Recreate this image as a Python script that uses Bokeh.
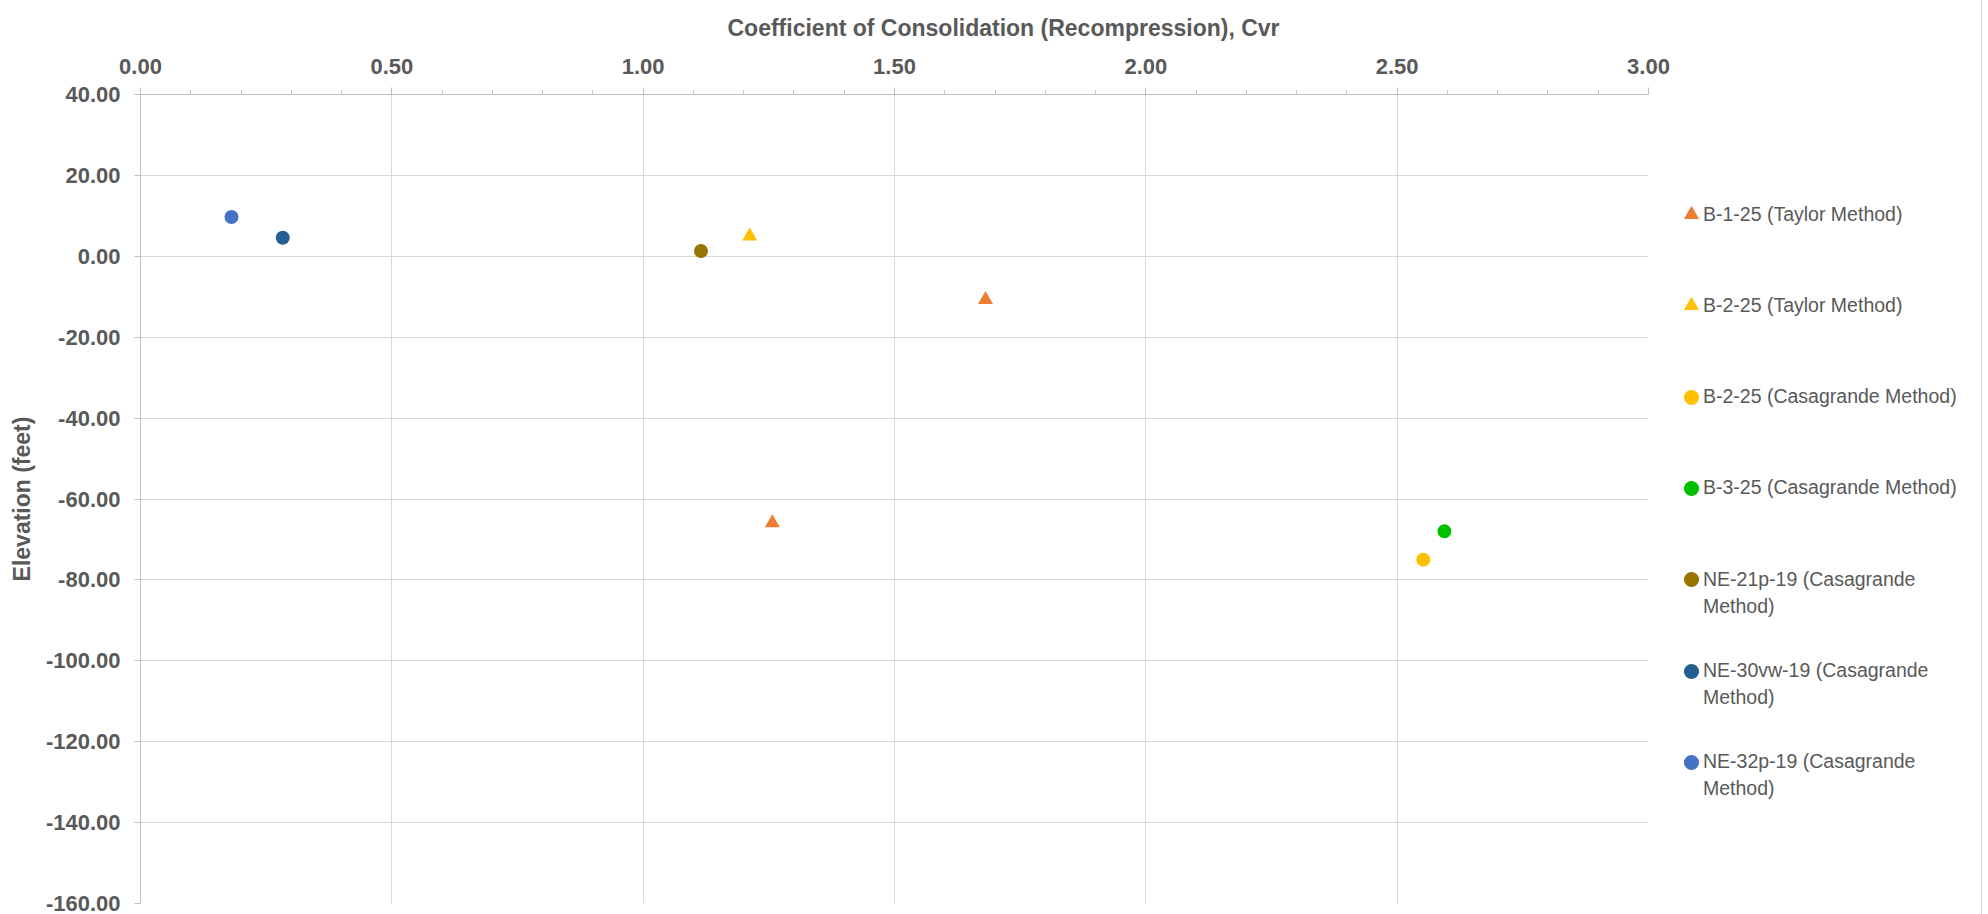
from bokeh.plotting import figure
from bokeh.layouts import row
from bokeh.models import (Legend, LegendItem, FixedTicker, NumeralTickFormatter,
                          Range1d, Title)
from bokeh.embed import file_html
from bokeh.resources import INLINE

# Coefficient of consolidation (recompression), Cvr, against sample elevation (ft)
b1_taylor_cvr = [1.681, 1.257]
b1_taylor_elev = [-10.7, -65.9]

b2_taylor_cvr = [1.212]
b2_taylor_elev = [5.0]

b2_casagrande_cvr = [2.552]
b2_casagrande_elev = [-75.0]

b3_casagrande_cvr = [2.594]
b3_casagrande_elev = [-68.0]

ne21p_cvr = [1.115]
ne21p_elev = [1.3]

ne30vw_cvr = [0.283]
ne30vw_elev = [4.6]

ne32p_cvr = [0.181]
ne32p_elev = [9.7]

series_names = [
    "B-1-25 (Taylor Method)",
    "B-2-25 (Taylor Method)",
    "B-2-25 (Casagrande Method)",
    "B-3-25 (Casagrande Method)",
    "NE-21p-19 (Casagrande\nMethod)",
    "NE-30vw-19 (Casagrande\nMethod)",
    "NE-32p-19 (Casagrande\nMethod)",
]
series_x = [b1_taylor_cvr, b2_taylor_cvr, b2_casagrande_cvr, b3_casagrande_cvr,
            ne21p_cvr, ne30vw_cvr, ne32p_cvr]
series_y = [b1_taylor_elev, b2_taylor_elev, b2_casagrande_elev, b3_casagrande_elev,
            ne21p_elev, ne30vw_elev, ne32p_elev]
series_colors = ["#ED7D31", "#FFC000", "#FFC000", "#00C000", "#997300", "#255E91", "#4472C4"]
series_markers = ["triangle", "triangle", "circle", "circle", "circle", "circle", "circle"]

x_major_ticks = [0.0, 0.5, 1.0, 1.5, 2.0, 2.5, 3.0]
x_minor_ticks = [0.1, 0.2, 0.3, 0.4, 0.6, 0.7, 0.8, 0.9, 1.1, 1.2, 1.3, 1.4,
                 1.6, 1.7, 1.8, 1.9, 2.1, 2.2, 2.3, 2.4, 2.6, 2.7, 2.8, 2.9]
y_ticks = [40, 20, 0, -20, -40, -60, -80, -100, -120, -140, -160]

FONT = "Liberation Sans"
GREY_TEXT = "#595959"
AXIS_GREY = "#bfbfbf"
GRID_GREY = "#d9d9d9"

H = 914
MAIN_W = 1672          # chart part; the legend strip sits to its right
LEG_W = 1982 - MAIN_W
LEFT, TOP, RIGHT_EDGE, BOTTOM = 140, 94, 1648, 903

p = figure(
    width=MAIN_W, height=H,
    x_range=Range1d(0, 3), y_range=Range1d(-160, 40),
    x_axis_location="above",
    output_backend="svg", toolbar_location=None,
    min_border_left=LEFT, min_border_top=TOP,
    min_border_right=MAIN_W - RIGHT_EDGE, min_border_bottom=H - BOTTOM,
    background_fill_color="white", border_fill_color="white",
)
p.outline_line_color = None

# horizontal-axis title, centred over the whole chart width
p.title = Title(
    text="Coefficient of Consolidation (Recompression), Cvr",
    align="left", offset=587, standoff=25, vertical_align="top",
    text_font=FONT, text_font_size="23px", text_font_style="bold",
    text_color=GREY_TEXT,
)

# grid
p.xgrid.ticker = FixedTicker(ticks=x_major_ticks)
p.ygrid.ticker = FixedTicker(ticks=y_ticks)
for g in (p.xgrid, p.ygrid):
    g.grid_line_color = GRID_GREY
    g.grid_line_width = 1

# top x axis
xa = p.xaxis[0]
xa.ticker = FixedTicker(ticks=x_major_ticks, minor_ticks=x_minor_ticks)
xa.formatter = NumeralTickFormatter(format="0.00")
xa.major_label_standoff = 14

# left y axis
ya = p.yaxis[0]
ya.ticker = FixedTicker(ticks=y_ticks)
ya.formatter = NumeralTickFormatter(format="0.00")
ya.axis_label = "Elevation (feet)"
ya.axis_label_standoff = 8
ya.major_label_standoff = 14

for ax in (xa, ya):
    ax.axis_line_color = AXIS_GREY
    ax.axis_line_width = 1
    ax.major_tick_line_color = AXIS_GREY
    ax.minor_tick_line_color = AXIS_GREY
    ax.major_tick_in = 0
    ax.minor_tick_in = 0
    ax.major_label_text_font = FONT
    ax.major_label_text_font_size = "22px"
    ax.major_label_text_font_style = "bold"
    ax.major_label_text_color = GREY_TEXT
    ax.axis_label_text_font = FONT
    ax.axis_label_text_font_size = "23px"
    ax.axis_label_text_font_style = "bold"
    ax.axis_label_text_color = GREY_TEXT

xa.major_tick_out = 7
xa.minor_tick_out = 4
ya.major_tick_out = 6
ya.minor_tick_out = 0
ya.minor_tick_line_color = None

for name, xs, ys, color, marker in zip(series_names, series_x, series_y,
                                       series_colors, series_markers):
    size = 15 if marker == "triangle" else 14
    p.scatter(xs, ys, marker=marker, size=size, fill_color=color, line_color=None)

# legend strip: swatch renderers share the series data but the strip's ranges
# keep them out of view, so only the legend entries show
lp = figure(
    width=LEG_W, height=H,
    x_range=Range1d(-2, -1), y_range=Range1d(-2, -1),
    output_backend="svg", toolbar_location=None,
    min_border=0, background_fill_color="white", border_fill_color="white",
)
lp.axis.visible = False
lp.grid.visible = False
lp.outline_line_color = None
lp.styles = {"border-right": "1px solid #d9d9d9"}

first_center = 213     # px from the top, first entry
step = 91.3            # px between entries
line_gap = 27          # px between wrapped lines of one entry
glyph_box = 38
box_shift = 12         # extra height the legend box carries under its glyph row
text_x = 31            # label start, px from the strip's left edge


def legend_block(text, swatch, center, x, glyph_w):
    bottom = center + glyph_box / 2 + box_shift
    return Legend(
        items=[LegendItem(label=text, renderers=[swatch])],
        location=(x, H - bottom),
        orientation="vertical",
        glyph_width=glyph_w, glyph_height=glyph_box,
        label_standoff=0, padding=0, margin=0, spacing=0,
        border_line_color=None, background_fill_alpha=0,
        label_text_font=FONT, label_text_font_size="19.5px",
        label_text_color=GREY_TEXT, label_height=glyph_box,
    )


for i, (name, xs, ys, color, marker) in enumerate(zip(series_names, series_x, series_y,
                                                      series_colors, series_markers)):
    swatch = lp.scatter(xs, ys, marker=marker, size=14, fill_color=color,
                        line_color=None)
    blank = lp.scatter(xs, ys, marker=marker, size=14, fill_alpha=0, line_alpha=0)
    center = first_center + i * step
    # marker swatch
    lp.add_layout(legend_block(" ", swatch, center, 0, glyph_box))
    # label lines
    for j, text in enumerate(name.split("\n")):
        lp.add_layout(legend_block(text, blank, center + j * line_gap, text_x, 0))

open("out.html", "w").write(file_html(row(p, lp), INLINE))
